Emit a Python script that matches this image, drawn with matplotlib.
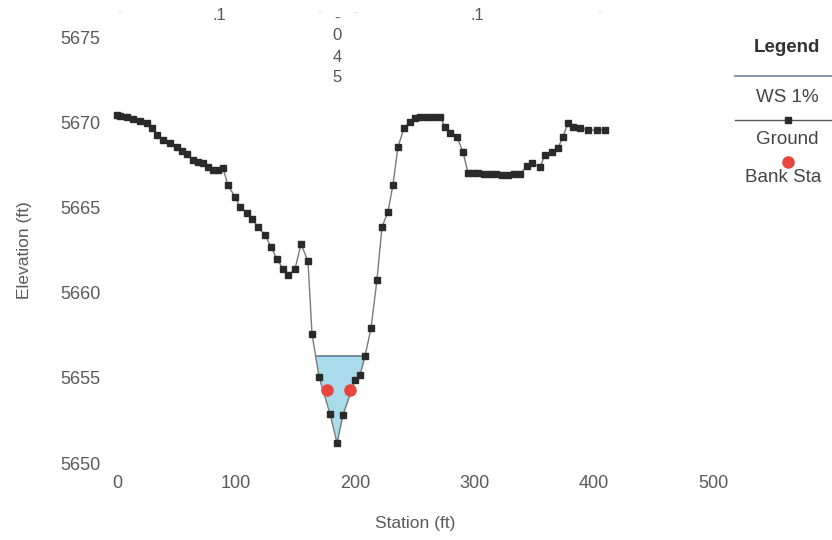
import numpy as np
import matplotlib
matplotlib.use("Agg")
import matplotlib.pyplot as plt
from matplotlib.lines import Line2D

plt.rcParams['font.family'] = ['Liberation Sans', 'DejaVu Sans']

# ground profile (station ft, elevation ft)
station = [0, 2.5, 8.4, 13.4, 19.3, 25.2, 29.4, 33.6, 38.6, 44.5, 50.3, 54.5,
           58.7, 63.8, 68.0, 72.1, 76.3, 80.5, 84.7, 88.9, 93.1, 99.0, 103.2,
           109.1, 113.3, 118.3, 124.2, 129.2, 134.2, 139.3, 143.5, 149.3, 154.4,
           160.2, 163.6, 169.5, 178.7, 184.6, 189.6, 199.7, 203.9, 208.1, 213.1,
           218.1, 222.3, 227.3, 231.5, 235.7, 240.8, 245.8, 250.0, 254.2, 260.1,
           265.1, 271.0, 275.2, 279.4, 285.2, 290.3, 294.5, 299.0, 303.0, 308.0,
           313.0, 318.0, 323.0, 328.0, 333.0, 338.0, 344.0, 348.0, 355.0, 359.0,
           365.0, 370.0, 374.0, 378.4, 382.6, 388.4, 395.1, 402.7, 409.4]
ground = [5670.42, 5670.36, 5670.31, 5670.19, 5670.07, 5669.95, 5669.66,
          5669.25, 5668.96, 5668.78, 5668.54, 5668.31, 5668.13, 5667.78,
          5667.66, 5667.61, 5667.37, 5667.19, 5667.19, 5667.31, 5666.31,
          5665.61, 5665.02, 5664.67, 5664.32, 5663.85, 5663.38, 5662.68,
          5661.97, 5661.38, 5661.03, 5661.38, 5662.85, 5661.85, 5657.57,
          5655.05, 5652.88, 5651.17, 5652.82, 5654.87, 5655.16, 5656.28,
          5657.92, 5660.74, 5663.85, 5664.73, 5666.31, 5668.54, 5669.66,
          5670.01, 5670.25, 5670.31, 5670.31, 5670.31, 5670.31, 5669.72,
          5669.37, 5669.13, 5668.25, 5667.02, 5667.00, 5667.00, 5666.96,
          5666.96, 5666.94, 5666.92, 5666.92, 5666.94, 5666.96, 5667.43,
          5667.61, 5667.37, 5668.08, 5668.25, 5668.49, 5669.13, 5669.95,
          5669.72, 5669.66, 5669.54, 5669.54, 5669.54]

bank_sta = [176.2, 195.5]
bank_elev = [5654.3, 5654.3]
ws_elev = 5656.3

x_ticks = [0, 100, 200, 300, 400, 500]
y_ticks = [5650, 5655, 5660, 5665, 5670, 5675]

W, H = 832, 540
fig = plt.figure(figsize=(W / 100, H / 100), dpi=100)
# axes placed in pixels: station 0 at x=117, 500 at x=713; 5675 at y=37, 5650 at y=463
ax = fig.add_axes([117 / W, (H - 463) / H, (713 - 117) / W, (463 - 37) / H])
ax.set_xlim(0, 500)
ax.set_ylim(5650, 5675)

st = np.array(station)
gr = np.array(ground)

# water surface: find where the WS crosses the channel banks
i_min = int(np.argmin(gr))
left = np.where(gr[:i_min] >= ws_elev)[0][-1]
right = i_min + np.where(gr[i_min:] >= ws_elev)[0][0]
x_l = np.interp(ws_elev, [gr[left + 1], gr[left]], [st[left + 1], st[left]])
x_r = np.interp(ws_elev, [gr[right - 1], gr[right]], [st[right - 1], st[right]])
wx = np.concatenate([[x_l], st[left + 1:right], [x_r]])
wg = np.concatenate([[ws_elev], gr[left + 1:right], [ws_elev]])
ax.fill_between(wx, wg, ws_elev, color='#a9dbea', lw=0, zorder=1)
ax.plot([x_l, x_r], [ws_elev, ws_elev], color='#6a7896', lw=1.2, zorder=2)

ax.plot(st, gr, '-', color='#7a7a7a', lw=1.0, zorder=3, clip_on=False)
ax.plot(st, gr, 's', color='#2a2a2a', ms=4.4, zorder=4, clip_on=False)
ax.plot(bank_sta, bank_elev, 'o', color='#e8453c', ms=8, zorder=5)

for s in ax.spines.values():
    s.set_visible(False)
ax.set_xticks(x_ticks)
ax.set_yticks(y_ticks)
ax.tick_params(length=0, colors='#5a5a5a', labelsize=13)
ax.tick_params(axis='x', pad=9)
ax.tick_params(axis='y', pad=12)
ax.set_xlabel('Station (ft)', color='#5a5a5a', fontsize=12.5, labelpad=17)
ax.set_ylabel('Elevation (ft)', color='#5a5a5a', fontsize=12.5, labelpad=20)


def px(x, y):
    return x / W, 1 - y / H


# odd river-station labels along the top
fig.text(*px(219, 15), '.1', ha='center', va='center', fontsize=12, color='#555555')
fig.text(*px(477, 15), '.1', ha='center', va='center', fontsize=12, color='#555555')
fig.text(*px(337, 18), '-', ha='center', va='center', fontsize=12, color='#666666')
for lbl, yy in zip(['0', '4', '5'], [36, 57, 78]):
    fig.text(*px(337, yy), lbl, ha='center', va='center', fontsize=12, color='#555555')
for xx in [120, 320, 355, 600]:
    fig.text(*px(xx, 12), '-', ha='center', va='center', fontsize=10, color='#e2e2e2')

# legend drawn by hand, cut off at the right edge
fig.text(*px(787, 47), 'Legend', ha='center', va='center', fontsize=13.5,
         fontweight='bold', color='#333333')
fig.add_artist(Line2D([735 / W, 1], [1 - 76 / H] * 2, color='#7080a8', lw=1.2))
fig.text(*px(787, 97), 'WS 1%', ha='center', va='center', fontsize=13.5, color='#444444')
fig.add_artist(Line2D([735 / W, 1], [1 - 120 / H] * 2, color='#555555', lw=1.0))
fig.add_artist(Line2D([788 / W], [1 - 120 / H], marker='s', color='#2a2a2a', ms=4.4))
fig.text(*px(787, 140), 'Ground', ha='center', va='center', fontsize=13.5, color='#444444')
fig.add_artist(Line2D([788 / W], [1 - 162 / H], marker='o', color='#e8453c', ms=8))
fig.text(*px(745, 178), 'Bank Sta', ha='left', va='center', fontsize=13.5, color='#444444')

fig.savefig('out.png', dpi=100)
